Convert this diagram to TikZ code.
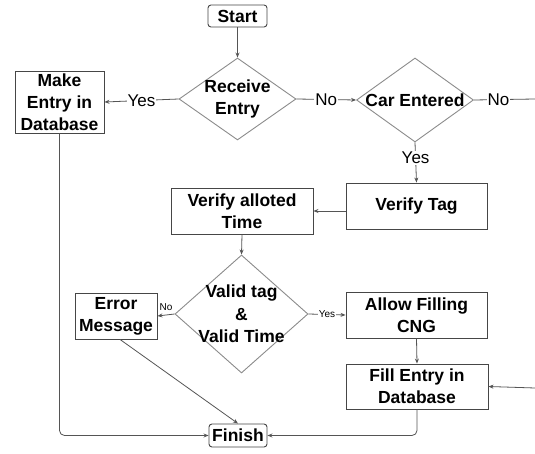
\documentclass[tikz,border=0pt]{standalone}
\usepackage{fontspec}
\setmainfont{Liberation Sans}
\usetikzlibrary{shapes.geometric,arrows.meta}
\definecolor{boxline}{RGB}{70,70,70}
\definecolor{diamline}{RGB}{140,140,140}
\definecolor{flowline}{RGB}{85,85,85}

\tikzset{
  procbox/.style={draw=boxline,line width=0.9pt,inner sep=0pt,align=center,
    font=\fontsize{17.5}{22}\selectfont\bfseries},
  termbox/.style={procbox,rounded corners=3pt},
  decision/.style={draw=diamline,line width=0.9pt,diamond,inner sep=0pt},
  dtext/.style={align=center,inner sep=0pt,font=\fontsize{17.5}{22.5}\selectfont\bfseries},
  flow/.style={draw=flowline,line width=0.8pt,-{Stealth[length=5pt,width=4pt]}},
  plainflow/.style={draw=flowline,line width=0.8pt},
  answer/.style={fill=white,inner sep=1pt,font=\fontsize{17}{20}\selectfont},
  smallanswer/.style={fill=white,inner sep=1pt,font=\fontsize{10}{12}\selectfont}
}

\begin{document}
\begin{tikzpicture}[x=1pt,y=-1pt]
\useasboundingbox (0,0) rectangle (535,454);
\fill[white] (0,0) rectangle (535,454);

\node [termbox,minimum width=59pt,minimum height=22pt] (start) at (237.5,16) {Start};
\node [decision,minimum width=117pt,minimum height=82pt,
  label={[dtext]center:Receive\\Entry}] (recv) at (237.5,99) {};
\node [procbox,minimum width=89pt,minimum height=62pt] (make) at (59.5,102) {Make\\Entry in\\Database};
\node [decision,minimum width=117pt,minimum height=84pt,
  label={[dtext]center:Car Entered}] (car) at (415,100) {};
\node [procbox,minimum width=141pt,minimum height=46pt] (vtag) at (416.5,206) {Verify Tag};
\node [procbox,minimum width=142pt,minimum height=46pt] (vtime) at (242,211) {Verify alloted\\Time};
\node [decision,minimum width=133pt,minimum height=118pt,
  label={[dtext]center:Valid tag\\\&\\Valid Time}] (valid) at (241.5,314) {};
\node [procbox,minimum width=82pt,minimum height=46pt] (err) at (116,316) {Error\\Message};
\node [procbox,minimum width=141pt,minimum height=46pt] (allow) at (416.5,315) {Allow Filling\\CNG};
\node [procbox,minimum width=142pt,minimum height=45pt] (fill) at (417,386.5) {Fill Entry in\\Database};
\node [termbox,minimum width=58pt,minimum height=23pt] (finish) at (238,435.5) {Finish};

\coordinate (carout) at (535,99);
\coordinate (fillin) at (535,388);

\draw [flow] (start) -- (recv.north);
\draw [flow] (recv.west) -- node [answer] {Yes} (make.east);
\draw [flow] (recv.east) -- node [answer] {No} (car.west);
\draw [plainflow] (car.east) -- node [answer,pos=0.4] {No} (carout);
\draw [flow] (car.south) -- node [answer,pos=0.38] {Yes} (vtag.north);
\draw [flow] (vtag.west |- vtime.east) -- (vtime.east);
\draw [flow] (vtime.south) -- (valid.north);
\draw [flow] (valid.west) -- node [smallanswer,above=3pt,fill=none] {No} (err.east);
\draw [flow] (valid.east) -- node [smallanswer] {Yes} (allow.west);
\draw [flow] (allow.south) -- (fill.north);
\draw [flow] (fillin) -- (fill.east);
\draw [flow,rounded corners=5pt] (make.south) |- (finish.west);
\draw [flow,rounded corners=5pt] (fill.south) |- (finish.east);
\draw [flow] ([xshift=4pt]err.south) -- (finish.north);
\end{tikzpicture}
\end{document}
